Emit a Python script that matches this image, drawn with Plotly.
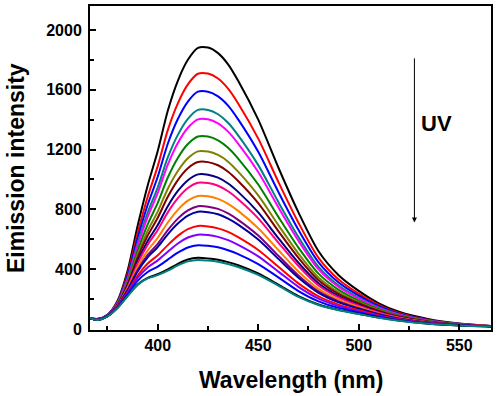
import plotly.graph_objects as go

wavelength = [366, 370, 375, 380, 385, 390, 395, 400, 405, 410, 415, 420, 425, 430,
              435, 440, 450, 460, 470, 480, 490, 500, 510, 520, 535, 550, 566]

c01 = [75, 68, 95, 190, 390, 690, 960, 1190, 1460, 1660, 1800, 1880, 1882, 1845, 1770, 1660, 1400, 1080, 780, 520, 360, 255, 172, 115, 65, 36, 20]
c02 = [75, 67, 94, 184, 369, 642, 884, 1089, 1330, 1509, 1636, 1707, 1708, 1675, 1607, 1508, 1273, 984, 711, 476, 331, 236, 160, 108, 61, 35, 20]
c03 = [75, 66, 93, 180, 355, 608, 831, 1018, 1239, 1404, 1521, 1587, 1587, 1556, 1494, 1402, 1185, 917, 663, 446, 311, 223, 152, 103, 59, 34, 20]
c04 = [74, 66, 92, 175, 340, 574, 778, 947, 1147, 1298, 1405, 1465, 1465, 1436, 1379, 1295, 1096, 849, 615, 415, 291, 210, 144, 97, 56, 33, 19]
c05 = [74, 65, 92, 173, 333, 557, 750, 910, 1099, 1244, 1346, 1402, 1402, 1375, 1320, 1240, 1050, 814, 590, 399, 281, 203, 139, 95, 55, 32, 19]
c06 = [74, 65, 91, 169, 319, 525, 700, 843, 1013, 1144, 1237, 1287, 1287, 1262, 1212, 1140, 966, 750, 544, 370, 262, 190, 132, 90, 53, 31, 19]
c07 = [74, 64, 90, 166, 307, 497, 657, 785, 938, 1057, 1142, 1188, 1187, 1164, 1119, 1052, 893, 695, 504, 344, 245, 179, 125, 86, 50, 30, 19]
c08 = [74, 64, 90, 163, 299, 478, 625, 744, 884, 996, 1075, 1117, 1116, 1095, 1052, 990, 842, 655, 476, 326, 234, 172, 120, 83, 49, 30, 19]
c09 = [74, 63, 89, 160, 289, 454, 589, 695, 821, 923, 995, 1034, 1032, 1012, 973, 917, 780, 608, 443, 305, 220, 163, 114, 79, 47, 29, 19]
c10 = [74, 63, 89, 158, 282, 439, 564, 662, 780, 875, 943, 978, 976, 958, 921, 868, 740, 578, 421, 291, 211, 156, 110, 77, 46, 28, 19]
c11 = [74, 62, 88, 155, 271, 414, 525, 610, 712, 797, 858, 889, 887, 870, 837, 790, 674, 528, 385, 268, 196, 147, 104, 73, 44, 28, 19]
c12 = [73, 62, 88, 153, 263, 395, 495, 570, 661, 738, 793, 821, 818, 803, 773, 730, 625, 490, 358, 251, 185, 139, 100, 70, 43, 27, 18]
c13 = [73, 62, 87, 151, 259, 385, 479, 548, 633, 705, 758, 784, 781, 767, 738, 698, 598, 469, 343, 242, 178, 135, 97, 69, 42, 27, 18]
c14 = [73, 61, 87, 148, 247, 358, 438, 493, 561, 623, 668, 689, 686, 673, 649, 614, 528, 416, 305, 218, 163, 125, 91, 65, 40, 26, 18]
c15 = [73, 61, 86, 146, 240, 342, 412, 459, 517, 572, 612, 631, 628, 616, 594, 563, 486, 384, 282, 203, 153, 118, 87, 62, 39, 25, 18]
c16 = [73, 61, 86, 143, 232, 322, 381, 417, 464, 510, 545, 560, 556, 546, 527, 501, 434, 345, 254, 185, 141, 111, 82, 59, 37, 25, 18]
c17 = [73, 60, 85, 141, 222, 298, 342, 366, 398, 436, 465, 476, 472, 463, 447, 426, 371, 297, 220, 164, 128, 102, 76, 56, 35, 24, 18]
c18 = [73, 60, 85, 140, 220, 295, 338, 360, 390, 425, 452, 462, 458, 450, 435, 415, 362, 290, 215, 160, 125, 100, 75, 55, 35, 24, 18]

series = [c01, c02, c03, c04, c05, c06, c07, c08, c09, c10, c11, c12, c13, c14, c15, c16, c17, c18]
colors = ["#000000", "#FF0000", "#0000FF", "#008080", "#FF00FF", "#008000",
          "#808000", "#800000", "#000080", "#FF0080", "#FF8000", "#800080",
          "#0000A0", "#FF0000", "#8000FF", "#0000FF", "#000000", "#008080"]

x_ticks = [400, 450, 500, 550]
y_ticks = [0, 400, 800, 1200, 1600, 2000]

FONT = "Arial, Liberation Sans, sans-serif"

fig = go.Figure()
for vals, col in zip(series, colors):
    fig.add_trace(go.Scatter(x=wavelength, y=vals, mode="lines",
                             line=dict(color=col, width=2, shape="spline", smoothing=0.8),
                             showlegend=False, hoverinfo="skip"))

axis_common = dict(showline=True, linecolor="black", linewidth=2, mirror=True,
                   ticks="inside", tickcolor="black", tickwidth=2, ticklen=6,
                   showgrid=False, zeroline=False,
                   tickfont=dict(family=FONT, size=16, color="black", weight="bold"))

fig.update_xaxes(range=[366.3, 565.8], tickvals=x_ticks, ticktext=[str(v) for v in x_ticks],
                 minor=dict(ticks="inside", ticklen=4, tickwidth=2, tickcolor="black",
                            tickvals=[375, 425, 475, 525]),
                 **axis_common)
fig.update_yaxes(range=[-6.7, 2160], tickvals=y_ticks, ticktext=[str(v) for v in y_ticks],
                 minor=dict(ticks="inside", ticklen=4, tickwidth=2, tickcolor="black",
                            tickvals=[200, 600, 1000, 1400, 1800]),
                 ticklabelstandoff=3,
                 **axis_common)

fig.add_annotation(text="<b>Wavelength (nm)</b>", xref="paper", yref="paper", x=0.5, y=0,
                   yanchor="middle", yshift=-50, showarrow=False,
                   font=dict(family=FONT, size=23, color="black"))
fig.add_annotation(text="<b>Eimission intensity</b>", xref="paper", yref="paper", x=0, y=0.5,
                   xanchor="center", xshift=-74, textangle=-90, showarrow=False,
                   font=dict(family=FONT, size=23, color="black"))
fig.add_annotation(text="<b>UV</b>", x=538.6, y=1374, xref="x", yref="y", showarrow=False,
                   font=dict(family=FONT, size=22, color="black"))
fig.add_annotation(text="", x=527.7, y=713, xref="x", yref="y",
                   ax=527.7, ay=1820, axref="x", ayref="y",
                   showarrow=True, arrowhead=2, arrowsize=1, arrowwidth=1, arrowcolor="black")

fig.update_layout(width=497, height=396, margin=dict(l=90, r=4, t=5, b=66),
                  paper_bgcolor="white", plot_bgcolor="white", showlegend=False)

fig.write_html("out.html", config={"displayModeBar": False},
               post_script="document.body.style.margin='0';document.body.style.padding='0';")
